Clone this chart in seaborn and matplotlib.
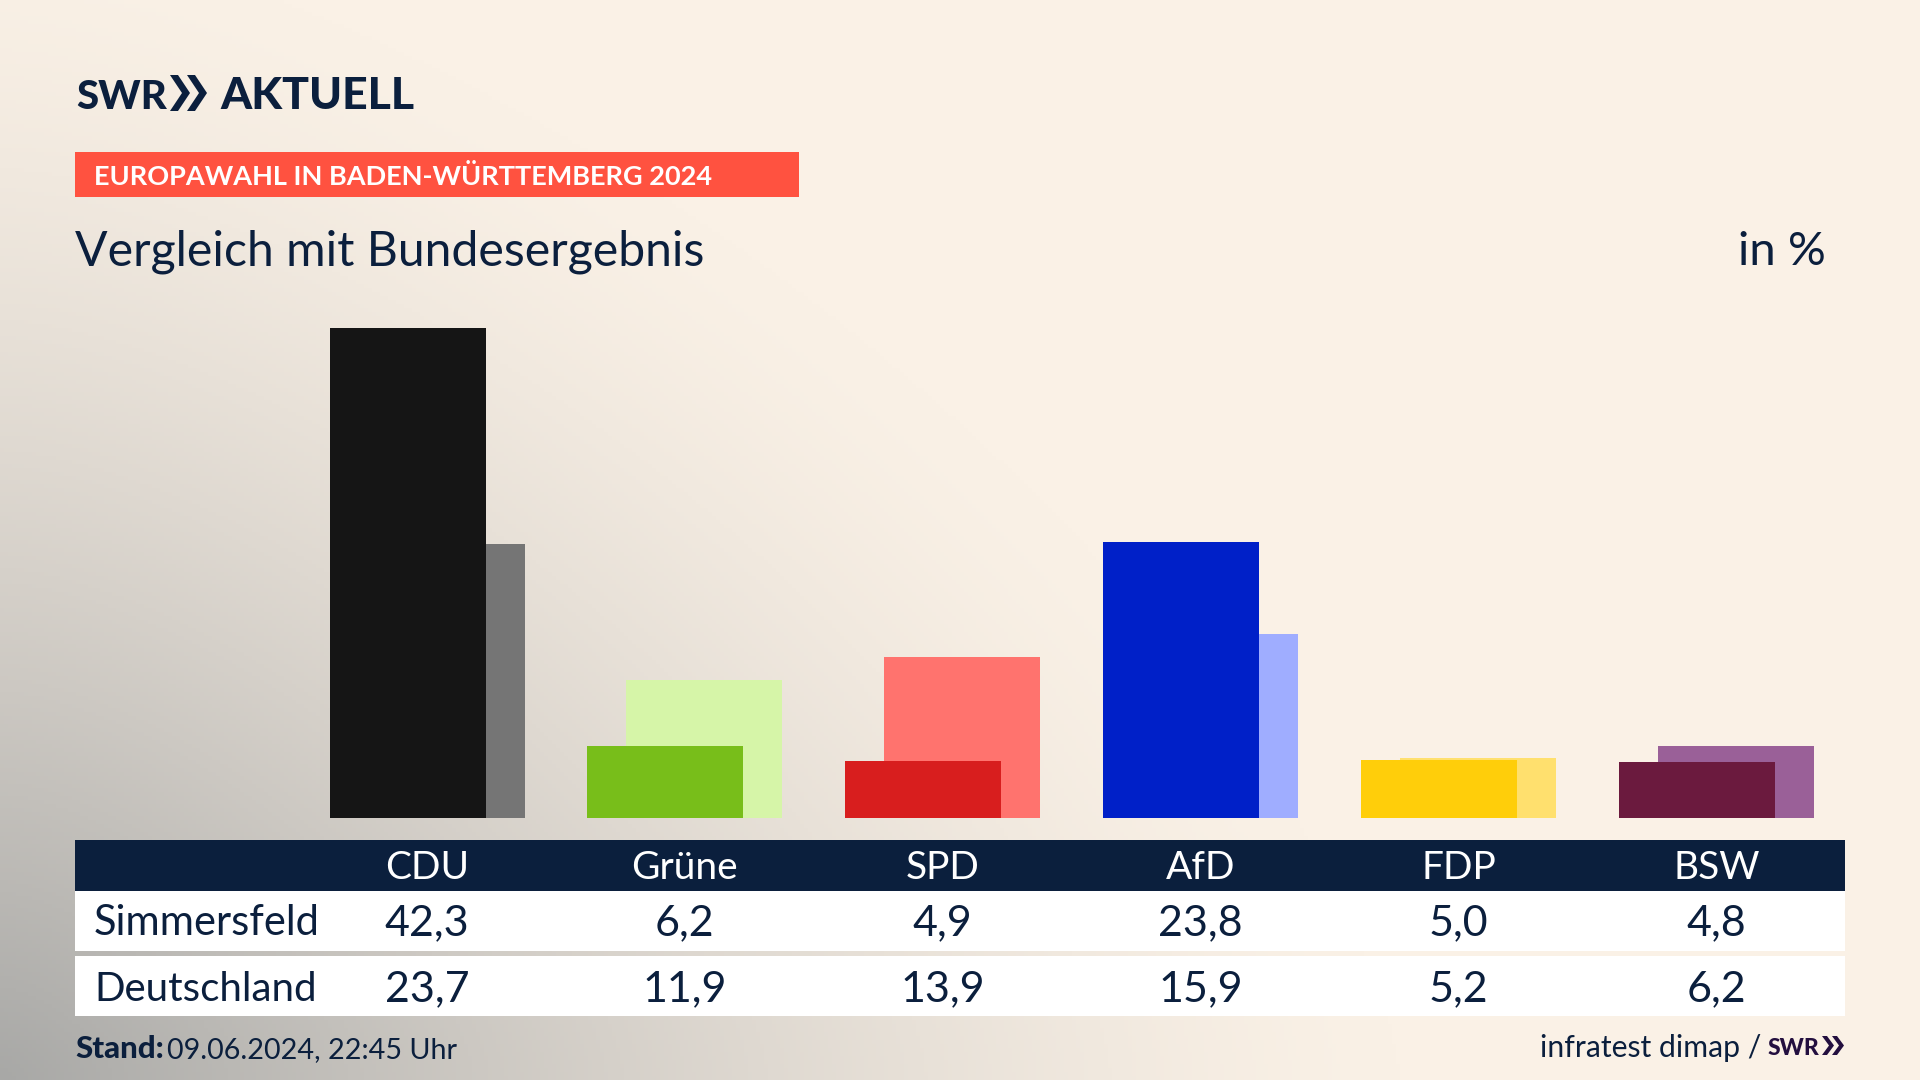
import numpy as np
import pandas as pd
import seaborn as sns
import matplotlib.pyplot as plt
from matplotlib.patches import Polygon, Rectangle

sns.set_theme(style="white")
plt.rcParams['font.family'] = ['Lato', 'DejaVu Sans']

parties = ['CDU', 'Grüne', 'SPD', 'AfD', 'FDP', 'BSW']
simmersfeld = [42.3, 6.2, 4.9, 23.8, 5.0, 4.8]
deutschland = [23.7, 11.9, 13.9, 15.9, 5.2, 6.2]
front_colors = ['#151515', '#78BE1A', '#D81E1E', '#0020C8', '#FFCE0A', '#6B1A3E']
back_colors = ['#757575', '#D6F5A8', '#FF736E', '#9FADFF', '#FFE06E', '#9A6098']

NAVY = '#0B1F3D'
CREAM = np.array([250, 241, 230]) / 255
GRAY = np.array([168, 168, 166]) / 255


def fmt(v):
    return f'{v:.1f}'.replace('.', ',')


def chevrons(ax, x0, top, bottom, w, t, gap, color):
    mid = (top + bottom) / 2
    for i in range(2):
        x = x0 + i * gap
        ax.add_patch(Polygon([(x, top), (x + t, top), (x + w, mid), (x + t, bottom),
                              (x, bottom), (x + w - t, mid)], color=color, lw=0))


fig = plt.figure(figsize=(19.2, 10.8), dpi=100)

# page layer in pixels, background + table + texts
page = fig.add_axes([0, 0, 1, 1])
page.set_xlim(0, 1920)
page.set_ylim(1080, 0)
page.axis('off')

xx, yy = np.meshgrid(np.linspace(0, 1920, 480), np.linspace(0, 1080, 270))
dist = ((xx / 1400) ** 1.5 + ((1080 - yy) / 1150) ** 1.5) ** (1 / 1.5)
shade = np.clip(1 - dist, 0, 1) ** 1.4
bg = CREAM + (GRAY - CREAM) * shade[..., None]
page.imshow(bg, extent=(0, 1920, 1080, 0), aspect='auto', zorder=0)

# bars
left, right, base, top = 75, 1845, 818, 240
center0, slot, px_per_unit = 427, 257.9, 11.58
ax = fig.add_axes([left / 1920, 1 - base / 1080, (right - left) / 1920, (base - top) / 1080])
ax.patch.set_alpha(0)

pos = np.arange(len(parties))
shift = 19.5 / slot
width = 156 / slot
df = pd.DataFrame({'party': parties, 'pos': pos, 'sim': simmersfeld, 'de': deutschland})
sns.barplot(data=df, x=df['pos'] + shift, y='de', hue='party', palette=back_colors, linewidth=0,
            native_scale=True, width=width, saturation=1, dodge=False, legend=False, ax=ax)
sns.barplot(data=df, x=df['pos'] - shift, y='sim', hue='party', palette=front_colors, linewidth=0,
            native_scale=True, width=width, saturation=1, dodge=False, legend=False, ax=ax)
ax.set_xlim((left - center0) / slot, (right - center0) / slot)
ax.set_ylim(0, (base - top) / px_per_unit)
ax.axis('off')

# logo
page.text(76, 109, 'SWR', fontsize=29, fontweight='black', color=NAVY)
chevrons(page, 170, 75, 111, 20, 8, 17, NAVY)
page.text(220, 109, 'AKTUELL', fontsize=32, fontweight='black', color=NAVY)

# header
page.add_patch(Rectangle((75, 152), 724, 45, color='#FF5240', lw=0))
page.text(94, 185, 'EUROPAWAHL IN BADEN-WÜRTTEMBERG 2024', fontsize=19.5, fontweight='bold', color='#FFFFFF')
page.text(75, 265, 'Vergleich mit Bundesergebnis', fontsize=34.7, color=NAVY)
page.text(1826, 265, 'in %', fontsize=34, color=NAVY, ha='right')

# table
page.add_patch(Rectangle((75, 840), 1770, 51, color=NAVY, lw=0))
page.add_patch(Rectangle((75, 891), 1770, 60, color='#FFFFFF', lw=0))
page.add_patch(Rectangle((75, 956), 1770, 60, color='#FFFFFF', lw=0))
page.text(94, 935, 'Simmersfeld', fontsize=30, color=NAVY)
page.text(94, 1001, 'Deutschland', fontsize=29, color=NAVY)
for i, party in enumerate(parties):
    cx = center0 + slot * i
    page.text(cx, 879, party, fontsize=28, color='#FFFFFF', ha='center')
    page.text(cx, 935, fmt(simmersfeld[i]), fontsize=31, color=NAVY, ha='center')
    page.text(cx, 1001, fmt(deutschland[i]), fontsize=31, color=NAVY, ha='center')

# footer
page.text(75, 1058, 'Stand:', fontsize=22.5, fontweight='black', color=NAVY)
page.text(167, 1058, '09.06.2024, 22:45 Uhr', fontsize=20.7, color=NAVY)
page.text(1761, 1057, 'infratest dimap /', fontsize=21.7, color=NAVY, ha='right')
page.text(1768, 1055, 'SWR', fontsize=16.5, fontweight='black', color='#230F3F')
chevrons(page, 1822, 1036, 1055, 12, 5, 10, '#230F3F')

fig.savefig('out.png', dpi=100)
